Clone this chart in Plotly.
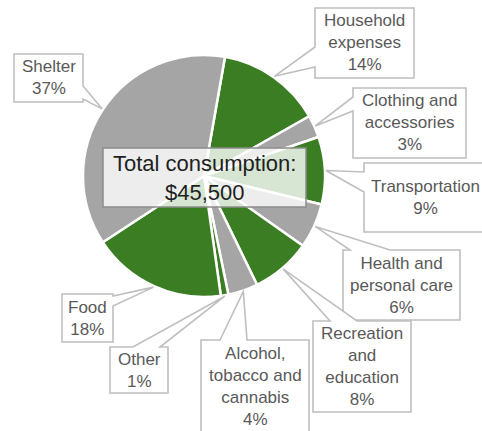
import math
import plotly.graph_objects as go

# Household consumption shares, clockwise from the top
categories = [
    "Household expenses",
    "Clothing and accessories",
    "Transportation",
    "Health and personal care",
    "Recreation and education",
    "Alcohol, tobacco and cannabis",
    "Other",
    "Food",
    "Shelter",
]
label_text = [
    "Household<br>expenses",
    "Clothing and<br>accessories",
    "Transportation",
    "Health and<br>personal care",
    "Recreation<br>and<br>education",
    "Alcohol,<br>tobacco and<br>cannabis",
    "Other",
    "Food",
    "Shelter",
]
shares = [14, 3, 9, 6, 8, 4, 1, 18, 37]
total_consumption = 45500

GREEN = "#3b7d23"
GREY = "#a5a5a5"
slice_colors = [GREEN, GREY, GREEN, GREY, GREEN, GREY, GREEN, GREEN, GREY]

W, H = 482, 431
CX, CY, R = 204, 176, 121          # pie centre and radius in pixels
ROTATION = 10                      # first slice starts 10 deg clockwise of 12 o'clock

# Callout boxes: (left, top, right, bottom), side carrying the pointer,
# pointer base span along that side, text anchor
callouts = {
    "Household expenses": dict(box=(315, 8, 414, 78), side="left", base=(47, 67), text=None),
    "Clothing and accessories": dict(box=(353, 88, 466, 158), side="left", base=(97, 111), text=None),
    "Transportation": dict(box=(364, 163, 500, 232), side="left", base=(172, 192), text=(425, 197.5)),
    "Health and personal care": dict(box=(343, 250, 460, 320), side="top", base=(350, 390), text=None),
    "Recreation and education": dict(box=(313, 321, 411, 412), side="top", base=(330, 357), text=None),
    "Alcohol, tobacco and cannabis": dict(box=(201, 340, 309, 445), side="top", base=(220, 247), text=(255, 386)),
    "Other": dict(box=(110, 347, 168, 393), side="top", base=(133, 160), text=None),
    "Food": dict(box=(62, 294, 113, 342), side="right", base=(296, 306), text=None),
    "Shelter": dict(box=(14, 54, 83, 102), side="right", base=(86, 99), text=None),
}


def px(x, y):
    return x / W, 1 - y / H


def pt(x, y):
    a, b = px(x, y)
    return f"{a:.5f},{b:.5f}"


def callout_path(box, side, base, tip):
    l, t, r, b = box
    b0, b1 = base
    if side == "left":
        pts = [(l, t), (r, t), (r, b), (l, b), (l, b1), tip, (l, b0)]
    elif side == "right":
        pts = [(l, t), (r, t), (r, b0), tip, (r, b1), (r, b), (l, b)]
    else:  # top
        pts = [(l, t), (b0, t), tip, (b1, t), (r, t), (r, b), (l, b)]
    return "M " + " L ".join(pt(*p) for p in pts) + " Z"


fig = go.Figure()
x0, y1 = px(CX - R, CY - R)
x1, y0 = px(CX + R, CY + R)
fig.add_trace(go.Pie(
    labels=categories,
    values=shares,
    sort=False,
    direction="clockwise",
    rotation=ROTATION,
    marker=dict(colors=slice_colors, line=dict(color="white", width=2.5)),
    textinfo="none",
    hoverinfo="label+percent",
    domain=dict(x=[x0, x1], y=[y0, y1]),
    showlegend=False,
))

shapes = []
annotations = []
total = sum(shares)
cum = 0
for cat, lab, v in zip(categories, label_text, shares):
    mid = math.radians(ROTATION + (cum + v / 2) / total * 360)
    cum += v
    tip = (CX + (R + 1) * math.sin(mid), CY - (R + 1) * math.cos(mid))
    c = callouts[cat]
    shapes.append(dict(
        type="path", xref="paper", yref="paper",
        path=callout_path(c["box"], c["side"], c["base"], tip),
        fillcolor="white", line=dict(color="#bfbfbf", width=1.6),
    ))
    l, t, r, b = c["box"]
    tx, ty = c["text"] if c["text"] else ((l + r) / 2, (t + b) / 2)
    ax, ay = px(tx, ty)
    annotations.append(dict(
        x=ax, y=ay, xref="paper", yref="paper", xanchor="center", yanchor="middle",
        text=f"{lab}<br>{round(v / total * 100)}%", showarrow=False, align="center",
        font=dict(family="Liberation Sans", size=17, color="#595959"),
    ))

# Central total box, semi-transparent so the pie shows through
bx0, by1 = px(103, 148)
bx1, by0 = px(306, 207)
shapes.append(dict(
    type="rect", xref="paper", yref="paper", x0=bx0, x1=bx1, y0=by0, y1=by1,
    fillcolor="rgba(255,255,255,0.8)", line=dict(color="#8c8c8c", width=1.5),
))
cx, cy = px(204.5, 177.5)
annotations.append(dict(
    x=cx, y=cy, xref="paper", yref="paper", xanchor="center", yanchor="middle",
    text=f"Total consumption:<br>${total_consumption:,}", showarrow=False, align="center",
    font=dict(family="Liberation Sans", size=22, color="#1f1f1f"),
))

fig.update_layout(
    width=W, height=H,
    margin=dict(l=0, r=0, t=0, b=0),
    paper_bgcolor="white", plot_bgcolor="white",
    shapes=shapes, annotations=annotations,
)
fig.write_html("out.html")
